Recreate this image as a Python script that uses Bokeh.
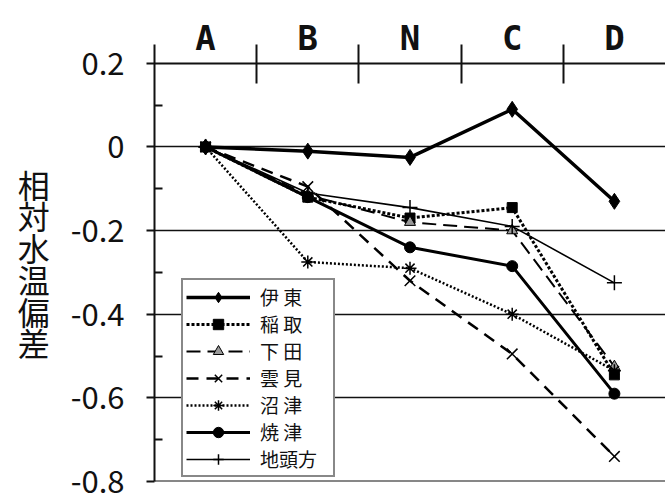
from bokeh.plotting import figure
from bokeh.models import FixedTicker, LinearAxis, Range1d
from bokeh.embed import file_html
from bokeh.resources import INLINE

# ---- data ----
categories = ["A", "B", "N", "C", "D"]
y_ticks = [0.2, 0.0, -0.2, -0.4, -0.6, -0.8]
y_tick_labels = ["0.2", "0", "-0.2", "-0.4", "-0.6", "-0.8"]
y_minor = [0.1, -0.1, -0.3, -0.5, -0.7]

labels = ["伊 東", "稲 取", "下 田", "雲 見", "沼 津", "焼 津", "地頭方"]
ito = [0.0, -0.01, -0.025, 0.09, -0.13]
inatori = [0.0, -0.12, -0.17, -0.145, -0.545]
shimoda = [0.0, -0.115, -0.18, -0.2, -0.525]
kumomi = [0.0, -0.095, -0.32, -0.495, -0.74]
numazu = [0.0, -0.275, -0.29, -0.4, -0.535]
yaizu = [0.0, -0.12, -0.24, -0.285, -0.59]
jitogata = [0.0, -0.11, -0.145, -0.19, -0.325]

series = [ito, inatori, shimoda, kumomi, numazu, yaizu, jitogata]

styles = [
    dict(dash="solid", lw=3.5, marker="diamond", size=16, fill="black"),
    dict(dash="3 2", lw=3, marker="square", size=10, fill="black"),
    dict(dash="14 7", lw=2, marker="triangle", size=11, fill="#9a9a9a"),
    dict(dash="12 8", lw=2.5, marker="x", size=15, fill="black"),
    dict(dash="2 2", lw=2.5, marker="asterisk", size=13, fill="black"),
    dict(dash="solid", lw=3, marker="circle", size=11, fill="black"),
    dict(dash="solid", lw=1.6, marker="cross", size=15, fill="black"),
]

xs = list(range(len(categories)))
cat_w = 102.2
frame_left = 154
fig_w = 665
x_end = -0.5 + (fig_w - frame_left) / cat_w

p = figure(width=fig_w, height=493, output_backend="svg", toolbar_location=None,
           x_range=Range1d(-0.5, x_end), y_range=Range1d(-0.8, 0.245),
           x_axis_type=None, y_axis_location="left",
           min_border_left=frame_left, min_border_right=0,
           min_border_top=44, min_border_bottom=12)
p.outline_line_color = None
p.background_fill_color = "white"
p.border_fill_color = "white"
p.xgrid.visible = False

# y axis
ya = p.yaxis[0]
ya.ticker = FixedTicker(ticks=y_ticks, minor_ticks=y_minor)
ya.major_label_overrides = {t: l for t, l in zip(y_ticks, y_tick_labels)}
ya.major_tick_out = 8
ya.major_tick_in = 0
ya.minor_tick_in = 8
ya.minor_tick_out = 0
ya.axis_line_width = 2
ya.major_tick_line_width = 2
ya.minor_tick_line_width = 2
ya.axis_line_color = "#111111"
ya.major_tick_line_color = "#111111"
ya.minor_tick_line_color = "#111111"
ya.major_label_standoff = 22
ya.major_label_text_font = "Noto Sans CJK JP"
ya.major_label_text_font_size = "31px"
ya.major_label_text_color = "#111111"
ya.axis_label = "\n".join("相対水温偏差")
ya.axis_label_orientation = "horizontal"
ya.axis_label_text_font = "Noto Sans CJK JP"
ya.axis_label_text_font_size = "32px"
ya.axis_label_text_font_style = "normal"
ya.axis_label_text_line_height = 0.69
ya.axis_label_standoff = 18
ya.axis_label_text_color = "#111111"

# horizontal grid
p.ygrid.ticker = FixedTicker(ticks=[0.0, -0.2, -0.4, -0.6])
p.ygrid.grid_line_color = "#111111"
p.ygrid.grid_line_width = 1.5

# top category axis at y = 0.2 (tick marks between categories)
top_ticks = LinearAxis(fixed_location=0.2,
                       ticker=FixedTicker(ticks=[i + 0.5 for i in xs[:-1]]),
                       major_tick_in=20, major_tick_out=20,
                       major_tick_line_width=2, axis_line_width=2,
                       axis_line_color="#111111", major_tick_line_color="#111111",
                       minor_tick_line_color=None,
                       major_label_overrides={i + 0.5: "" for i in xs[:-1]})
p.add_layout(top_ticks, "above")

top_labels = LinearAxis(ticker=FixedTicker(ticks=xs),
                        major_label_overrides={i: c for i, c in zip(xs, categories)},
                        major_tick_in=0, major_tick_out=0,
                        minor_tick_line_color=None, axis_line_color=None,
                        major_label_standoff=-13,
                        major_label_text_font="DejaVu Sans Mono",
                        major_label_text_font_style="bold",
                        major_label_text_font_size="34px",
                        major_label_text_color="#111111")
p.add_layout(top_labels, "above")

# bottom line at -0.8
bottom = LinearAxis(fixed_location=-0.8, ticker=FixedTicker(ticks=[]),
                    axis_line_width=2, axis_line_color="#111111",
                    major_tick_line_color=None, minor_tick_line_color=None)
p.add_layout(bottom, "below")

for lab, ys, st in zip(labels, series, styles):
    p.line(xs, ys, line_color="black", line_width=st["lw"], line_dash=st["dash"],
           legend_label=lab)
    lw = 1.5 if st["marker"] in ("x", "asterisk", "cross") else 1
    p.scatter(xs, ys, marker=st["marker"], size=st["size"], fill_color=st["fill"],
              line_color="black", line_width=lw, legend_label=lab)

lg = p.legend[0]
lg.location = (27, 4)
lg.margin = 0
lg.padding = 3
lg.spacing = 0
lg.glyph_height = 26
lg.label_height = 26
lg.glyph_width = 64
lg.label_width = 70
lg.label_standoff = 10
lg.label_text_font = "Noto Sans CJK JP"
lg.label_text_font_size = "19px"
lg.label_text_color = "#111111"
lg.border_line_color = "#111111"
lg.border_line_width = 2
lg.background_fill_color = "white"
lg.background_fill_alpha = 1.0

open("out.html", "w").write(file_html(p, INLINE))
